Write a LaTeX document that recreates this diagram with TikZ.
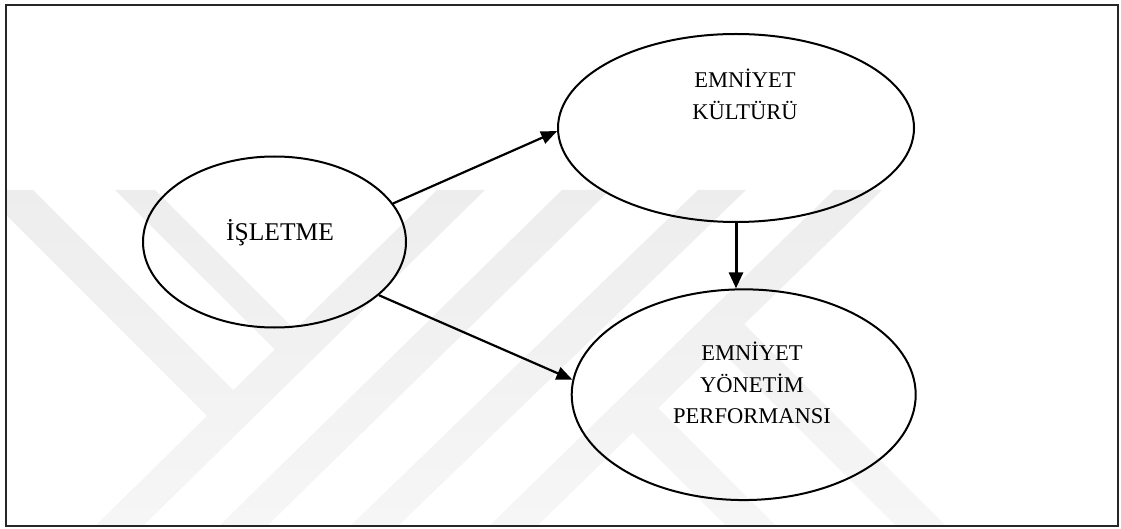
\documentclass[tikz,border=0pt]{standalone}
\usepackage{fontspec}
\setmainfont{Liberation Serif}
\usetikzlibrary{shapes.geometric,arrows.meta}

\tikzset{
  oval/.style={ellipse, draw=black, line width=2pt, inner sep=0pt},
  lbl/.style={font=\fontsize{22.5}{31.5}\selectfont, align=center, inner sep=0pt},
  link/.style={line width=2.2pt, -{Triangle[length=16pt,width=13pt]}},
  thicklink/.style={line width=3pt, -{Triangle[length=16pt,width=14pt]}},
  wm/.style={top color=black!7, bottom color=black!3.5},
  frame/.style={draw=black!85, line width=2pt}
}
% one faint band of the background logo, shaded top to bottom
\newcommand\wmband[1]{\begin{scope}\clip #1 -- cycle;\shade[wm] (0,190) rectangle (1121,529);\end{scope}}

\begin{document}
\begin{tikzpicture}[x=1pt,y=-1pt]
\useasboundingbox (0,0) rectangle (1121,529);

% background logo bands
\begin{scope}
  \clip (7,6) rectangle (1117,524.5);
  \wmband{(-19,190) -- (33,190) -- (243,400) -- (216,425)}
  \wmband{(115,190) -- (155,190) -- (305,340) -- (285,360)}
  \wmband{(437,190) -- (485,190) -- (140,529) -- (92,529)}
  \wmband{(562,190) -- (610,190) -- (264,529) -- (216,529)}
  \wmband{(698,190) -- (746,190) -- (395,529) -- (347,529)}
  \wmband{(834,190) -- (882,190) -- (534,529) -- (486,529)}
  \wmband{(650,400) -- (779,529) -- (729,529) -- (620,420)}
  \wmband{(740,320) -- (949,529) -- (899,529) -- (710,340)}
\end{scope}

% outer frame
\draw[frame] (6,5) rectangle (1118,525.5);

% ovals
\node[oval, minimum width=263pt, minimum height=171pt] (isl) at (274.5,242) {};
\node[oval, minimum width=356pt, minimum height=188pt] (kul) at (736,128) {};
\node[oval, minimum width=344pt, minimum height=210.7pt] (yon) at (743.7,394.7) {};

% labels (base anchor sits on the last line)
\node[lbl, font=\fontsize{25.5}{30}\selectfont, anchor=base] (islt) at (280,241) {İŞLETME};
\node[lbl, anchor=base] (kult) at (745,119.5) {EMNİYET\\KÜLTÜRÜ};
\node[lbl, anchor=base] (yont) at (752,423.5) {EMNİYET\\YÖNETİM\\PERFORMANSI};

% connectors
\draw[link] (isl.18.7) -- (kul.181.4);
\draw[link] (isl.-27.4) -- (yon.175);
\draw[thicklink] (kul.south) -- (kul.south |- yon.north);
\end{tikzpicture}
\end{document}
